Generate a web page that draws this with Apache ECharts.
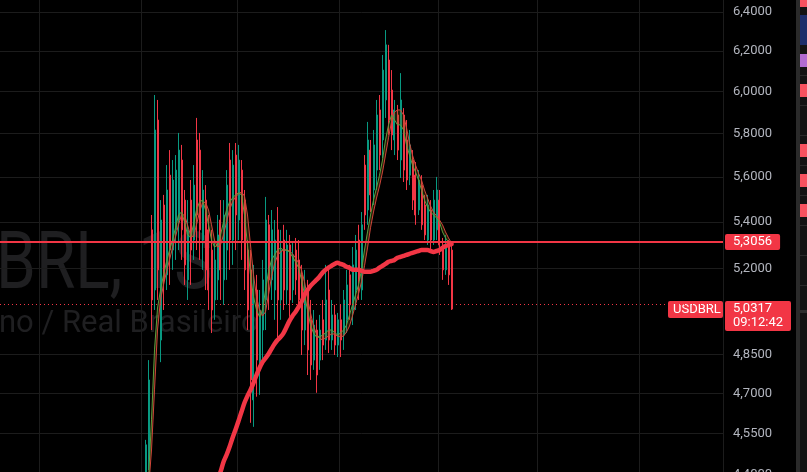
<!DOCTYPE html>
<html>
<head>
<meta charset="utf-8">
<script src="https://cdn.jsdelivr.net/npm/echarts@6/dist/echarts.min.js"></script>
<style>
  html, body { margin: 0; padding: 0; background: #000; }
  #chart { width: 807px; height: 472px; }
</style>
</head>
<body>
<div id="chart"></div>
<script>
// USDBRL weekly candles (each candle here ~ a few weeks)
const SLOTS = 241;      // category slots across the plot
const FIRST = 48;       // slot of the first candle
const LONG_FIRST = 22;  // first candle where the long MA is drawn

const opens = [4.400,4.453,5.365,5.110,5.864,4.907,5.474,5.173,5.608,5.278,
  5.365,5.408,5.677,5.496,5.152,5.496,5.321,5.770,5.723,5.321,
  5.496,5.365,5.278,5.069,5.152,5.408,5.152,5.278,5.677,5.321,
  5.700,5.408,5.631,5.496,5.278,5.194,4.675,5.110,4.790,4.947,
  5.069,5.387,5.152,5.110,5.365,5.069,5.321,5.110,5.300,5.110,
  5.278,5.236,5.173,4.947,5.110,4.988,4.828,4.947,4.828,4.988,
  4.907,5.110,4.907,5.008,4.887,4.988,4.927,4.988,5.173,5.028,
  5.110,5.321,5.110,5.654,5.452,5.723,5.541,5.631,5.912,5.770,
  5.960,6.156,6.008,5.770,5.888,5.677,5.888,5.770,5.608,5.677,
  5.608,5.452,5.563,5.474,5.321,5.452,5.321,5.365,5.496,5.300,
  5.194,5.300,5.278];
const closes = [4.508,4.751,5.069,5.817,5.194,5.408,5.152,5.541,5.278,5.586,
  5.631,5.723,5.365,5.215,5.365,5.278,5.563,5.430,5.365,5.541,
  5.194,5.110,5.028,5.236,5.343,5.194,5.430,5.563,5.321,5.654,
  5.430,5.677,5.321,5.194,5.028,4.751,5.110,4.828,5.028,5.152,
  5.408,5.152,5.365,5.321,5.069,5.278,5.110,5.300,5.069,5.257,
  5.152,5.069,4.947,5.110,4.868,4.809,4.967,4.770,4.947,4.887,
  5.069,4.907,5.008,4.887,4.988,4.907,5.069,5.131,5.049,5.215,
  5.278,5.152,5.387,5.430,5.770,5.519,5.747,5.888,5.700,6.106,
  6.232,5.864,5.794,5.912,5.723,5.960,5.631,5.586,5.747,5.496,
  5.430,5.586,5.387,5.343,5.474,5.321,5.496,5.541,5.300,5.194,
  5.300,5.173,5.0317];
const lows = [4.382,4.417,4.947,5.028,5.069,4.820,5.028,5.110,5.131,5.194,
  5.236,5.278,5.236,5.131,5.069,5.131,5.236,5.278,5.236,5.194,
  5.110,5.028,4.935,4.988,5.069,5.069,5.049,5.152,5.194,5.215,
  5.278,5.321,5.236,5.110,4.947,4.589,4.574,4.687,4.694,4.828,
  4.947,5.028,5.069,4.988,4.899,4.988,5.028,5.049,5.000,5.057,
  5.090,5.028,4.848,4.887,4.770,4.751,4.790,4.702,4.790,4.828,
  4.868,4.856,4.868,4.848,4.840,4.840,4.868,4.935,4.988,4.967,
  5.028,5.069,5.069,5.365,5.387,5.443,5.474,5.541,5.631,5.686,
  5.874,5.794,5.723,5.700,5.677,5.595,5.577,5.541,5.563,5.452,
  5.387,5.430,5.365,5.321,5.300,5.278,5.300,5.321,5.257,5.152,
  5.173,5.131,5.028];
const highs = [4.526,4.828,5.430,5.984,5.960,5.496,5.519,5.654,5.723,5.677,
  5.700,5.803,5.747,5.541,5.496,5.586,5.654,5.874,5.803,5.631,
  5.563,5.430,5.365,5.321,5.430,5.496,5.496,5.631,5.756,5.723,
  5.756,5.747,5.677,5.541,5.321,5.278,5.215,5.173,5.110,5.236,
  5.510,5.430,5.452,5.408,5.465,5.365,5.387,5.365,5.343,5.308,
  5.330,5.321,5.215,5.194,5.152,5.069,5.028,4.988,5.008,5.069,
  5.215,5.203,5.069,5.049,5.016,5.049,5.110,5.194,5.215,5.291,
  5.343,5.387,5.443,5.700,5.855,5.770,5.817,5.960,5.984,6.181,
  6.307,6.232,6.106,5.960,5.936,6.091,5.921,5.864,5.817,5.723,
  5.668,5.631,5.608,5.519,5.519,5.496,5.541,5.600,5.541,5.330,
  5.343,5.321,5.312];

// short moving averages, from the second candle on
const maFast = [4.382,4.600,4.868,5.036,5.110,5.173,5.228,5.278,5.321,
  5.374,5.430,5.443,5.399,5.343,5.334,5.387,5.452,5.487,5.496,
  5.452,5.387,5.321,5.291,5.300,5.343,5.399,5.452,5.487,5.505,
  5.519,5.528,5.519,5.430,5.300,5.173,5.082,5.028,5.000,5.028,
  5.110,5.186,5.236,5.257,5.278,5.287,5.278,5.278,5.270,5.249,
  5.228,5.203,5.152,5.090,5.028,4.967,4.935,4.919,4.919,4.927,
  4.935,4.947,4.947,4.939,4.927,4.935,4.947,4.967,5.008,5.049,
  5.090,5.131,5.194,5.278,5.356,5.430,5.496,5.550,5.608,5.677,
  5.770,5.841,5.888,5.864,5.841,5.841,5.817,5.747,5.700,5.654,
  5.622,5.586,5.541,5.496,5.465,5.443,5.430,5.417,5.399,5.356,
  5.330,5.312,5.300];
const maSlow = [4.347,4.489,4.713,4.947,5.069,5.131,5.186,5.236,5.287,
  5.334,5.387,5.430,5.430,5.387,5.343,5.334,5.387,5.443,5.483,
  5.487,5.452,5.387,5.321,5.291,5.300,5.343,5.399,5.452,5.487,
  5.510,5.523,5.532,5.514,5.430,5.300,5.173,5.082,5.028,5.004,
  5.020,5.090,5.165,5.219,5.253,5.270,5.278,5.278,5.274,5.262,
  5.245,5.224,5.194,5.144,5.077,5.016,4.963,4.931,4.915,4.907,
  4.915,4.923,4.931,4.931,4.923,4.919,4.923,4.939,4.963,5.004,
  5.049,5.094,5.144,5.211,5.287,5.374,5.443,5.505,5.559,5.622,
  5.700,5.780,5.855,5.902,5.912,5.912,5.888,5.827,5.756,5.700,
  5.654,5.617,5.586,5.541,5.505,5.470,5.443,5.426,5.408,5.387,
  5.356,5.330,5.308];
// long moving average, from candle LONG_FIRST on
const maLong = [4.312,4.347,4.382,4.410,4.446,4.471,4.500,4.533,4.563,4.596,
  4.630,4.664,4.690,4.713,4.740,4.770,4.797,4.820,4.836,4.852,
  4.872,4.891,4.907,4.919,4.935,4.959,4.984,5.004,5.020,5.040,
  5.061,5.090,5.110,5.127,5.140,5.152,5.165,5.182,5.194,5.203,
  5.211,5.219,5.224,5.219,5.215,5.207,5.203,5.194,5.194,5.194,
  5.190,5.186,5.186,5.186,5.190,5.194,5.203,5.211,5.219,5.228,
  5.232,5.236,5.245,5.249,5.253,5.257,5.262,5.266,5.270,5.274,
  5.278,5.278,5.278,5.274,5.270,5.274,5.278,5.287,5.295,5.300,
  5.304];

const priceTicks = [4.40, 4.55, 4.70, 4.85, 5.20, 5.40, 5.60, 5.80, 6.00, 6.20, 6.40];
const linePrice = 5.3056;
const lastPrice = 5.0317;
const lastTime = '09:12:42';
const symbol = 'USDBRL';
const gridSlots = [13, 47, 79, 113, 146, 179, 213];
const categories = Array.from({ length: SLOTS }, (_, i) => 'w' + i);

const RED = '#f23645', GREEN = '#089981';
const L = Math.log;
const fmt = v => Math.exp(v).toFixed(4).replace('.', ',');

// log price scale: 1235 px per unit of ln, 6,4000 sits 12px below the top
const yMax = L(6.4) + 12 / 1235;
const yMin = yMax - 478 / 1235;

const candleData = opens.map((o, i) => [FIRST + i, L(o), L(closes[i]), L(lows[i]), L(highs[i])]);
const line = (arr, off) => arr.map((v, i) => [off + i, L(v)]);
const bandBase = maFast.map((v, i) => [FIRST + 1 + i, Math.min(L(v), L(maSlow[i]))]);
const bandDiff = maFast.map((v, i) => [FIRST + 1 + i, Math.abs(L(v) - L(maSlow[i]))]);

const chart = echarts.init(document.getElementById('chart'));

const option = {
  backgroundColor: '#000',
  animation: false,
  grid: { left: 0, right: 84, top: 0, bottom: -6, containLabel: false, outerBoundsMode: 'none' },
  xAxis: {
    type: 'category',
    data: categories,
    boundaryGap: true,
    axisLine: { show: false },
    axisTick: { show: false },
    axisLabel: { show: false },
    splitLine: {
      show: true,
      interval: (idx) => gridSlots.indexOf(idx) >= 0,
      lineStyle: { color: '#1c1c1c', width: 1 }
    }
  },
  yAxis: {
    type: 'value',
    position: 'right',
    min: yMin,
    max: yMax,
    axisLine: { show: false },
    axisTick: { show: false, customValues: priceTicks.map(L) },
    axisLabel: {
      customValues: priceTicks.map(L),
      formatter: fmt,
      color: '#b2b5be',
      fontSize: 13,
      fontFamily: 'Roboto',
      margin: 10
    },
    splitLine: { show: true, lineStyle: { color: '#1c1c1c', width: 1 } }
  },
  series: [
    {
      name: 'band base',
      type: 'line',
      data: bandBase,
      stack: 'band',
      symbol: 'none',
      lineStyle: { opacity: 0 },
      silent: true
    },
    {
      name: 'band',
      type: 'line',
      data: bandDiff,
      stack: 'band',
      symbol: 'none',
      lineStyle: { opacity: 0 },
      areaStyle: { color: 'rgba(130,105,30,0.4)' },
      silent: true
    },
    {
      name: 'MA slow',
      type: 'line',
      data: line(maSlow, FIRST + 1),
      symbol: 'none',
      lineStyle: { color: '#d2463a', width: 1 },
      z: 3
    },
    {
      name: 'MA fast',
      type: 'line',
      data: line(maFast, FIRST + 1),
      symbol: 'none',
      lineStyle: { color: '#5f9f3f', width: 1 },
      z: 3
    },
    {
      name: symbol,
      type: 'candlestick',
      data: candleData,
      encode: { x: 0, y: [1, 2, 3, 4] },
      barWidth: 1.5,
      itemStyle: {
        color: GREEN, color0: RED,
        borderColor: GREEN, borderColor0: RED,
        borderWidth: 1
      },
      z: 2,
      markLine: {
        silent: true,
        symbol: 'none',
        animation: false,
        data: [
          {
            yAxis: L(linePrice),
            lineStyle: { color: RED, width: 2, type: 'solid' },
            label: {
              show: true,
              position: 'end',
              distance: 2,
              formatter: fmt(L(linePrice)),
              color: '#fff',
              backgroundColor: RED,
              fontSize: 13,
              fontFamily: 'Roboto',
              lineHeight: 16,
              padding: [0, 8, 0, 8],
              borderRadius: 2
            }
          },
          {
            yAxis: L(lastPrice),
            lineStyle: { color: RED, width: 1, type: [1, 3] },
            label: { show: false }
          }
        ]
      }
    },
    {
      name: 'MA long',
      type: 'line',
      data: line(maLong, FIRST + LONG_FIRST),
      symbol: 'none',
      smooth: 0.3,
      lineStyle: { color: RED, width: 4.5, cap: 'round', join: 'round' },
      z: 4
    }
  ]
};
chart.setOption(option);

// overlays: watermark, last price tags, watchlist edge
const ctx = document.createElement('canvas').getContext('2d');
function textW(s, font) { ctx.font = font; return ctx.measureText(s).width; }

const bigFont = '400 80px Roboto';
const bigScale = 0.8;
const smallFont = '400 31px Roboto';
const lastY = chart.convertToPixel({ yAxisIndex: 0 }, L(lastPrice));

const sideBlocks = [
  [0, 7, '#f7525f'], [15, 30, '#1d2e6b'], [54, 13, '#b26bd1'], [84, 13, '#f7525f'],
  [144, 13, '#f7525f'], [174, 13, '#f7525f'], [204, 13, '#f7525f']
];
const sideSeps = [75, 105, 135, 165, 195, 225, 255, 285];

const graphics = [
  {
    type: 'text', z: -10, silent: true,
    x: -textW('USD', bigFont) * bigScale - 4, y: 228, scaleX: bigScale,
    style: { text: 'USDBRL, 1S', font: bigFont, fill: '#1f1f21', verticalAlign: 'top' }
  },
  {
    type: 'text', z: -10, silent: true,
    x: -textW('Dólar America', smallFont) - 1, y: 309,
    style: { text: 'Dólar Americano / Real Brasileiro', font: smallFont, fill: '#1f1f21', verticalAlign: 'top' }
  },
  {
    type: 'group', x: 668, y: lastY - 8, z: 20,
    children: [
      { type: 'rect', shape: { x: 0, y: 0, width: 55, height: 17, r: 2 }, style: { fill: RED } },
      { type: 'text', x: 5, y: 2, style: { text: symbol, font: '13px Roboto', fill: '#fff' } }
    ]
  },
  {
    type: 'group', x: 725, y: lastY - 8, z: 20,
    children: [
      { type: 'rect', shape: { x: 0, y: 0, width: 66, height: 30, r: 2 }, style: { fill: RED } },
      { type: 'text', x: 8, y: 1, style: { text: fmt(L(lastPrice)) + '\n' + lastTime, font: '13px Roboto', lineHeight: 14, fill: '#fff' } }
    ]
  },
  { type: 'rect', shape: { x: 796, y: 0, width: 4, height: 472 }, style: { fill: '#2a2a2a' }, z: 20 },
  { type: 'rect', shape: { x: 800, y: 0, width: 7, height: 472 }, style: { fill: '#131313' }, z: 20 },
  { type: 'rect', shape: { x: 800, y: 310, width: 7, height: 3 }, style: { fill: '#2e2e2e' }, z: 21 }
];
sideSeps.forEach(y => graphics.push({ type: 'rect', shape: { x: 800, y: y, width: 7, height: 1 }, style: { fill: '#2a2a2a' }, z: 21 }));
sideBlocks.forEach(b => graphics.push({ type: 'rect', shape: { x: 800, y: b[0], width: 7, height: b[1] }, style: { fill: b[2] }, z: 21 }));

chart.setOption({ graphic: graphics });
</script>
</body>
</html>
